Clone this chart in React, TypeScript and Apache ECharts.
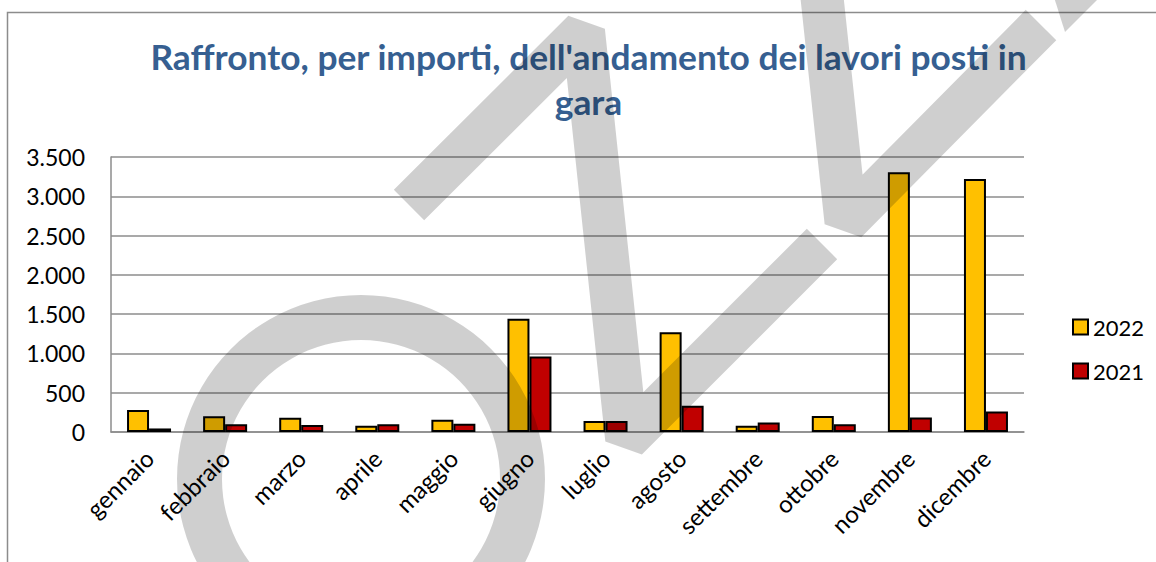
import React, { useEffect, useRef } from "react";
import * as echarts from "echarts";

const months = ["gennaio", "febbraio", "marzo", "aprile", "maggio", "giugno", "luglio", "agosto", "settembre", "ottobre", "novembre", "dicembre"];
const values2022 = [280, 200, 180, 80, 155, 1440, 140, 1270, 80, 205, 3305, 3220];
const values2021 = [45, 100, 88, 100, 105, 960, 140, 335, 120, 100, 185, 262];
const seriesNames = ["2022", "2021"];
const yTicks = [0, 500, 1000, 1500, 2000, 2500, 3000, 3500];
const titleLines = ["Raffronto, per importi, dell'andamento dei lavori posti in", "gara"];

const fmt = (v: number) => String(v).replace(/\B(?=(\d{3})+(?!\d))/g, ".");

function measure(text: string, font: string): number {
  const c = document.createElement("canvas").getContext("2d");
  if (!c) return 0;
  c.font = font;
  return c.measureText(text).width;
}

export default function App() {
  const ref = useRef<HTMLDivElement>(null);
  useEffect(() => {
    if (!ref.current) return;
    const chart = echarts.init(ref.current, null, { renderer: "svg" });
    const titleFont = "bold 34px Lato";
    const w = measure(titleLines[0], titleFont) || 877;
    const sx = 877 / w;
    const wm = "rgba(0,0,0,0.19)";
    chart.setOption({
      animation: false,
      backgroundColor: "#ffffff",
      textStyle: { fontFamily: "Lato" },
      grid: { left: 111, right: 132, top: 157, bottom: 130, containLabel: false },
      legend: {
        data: seriesNames,
        orient: "vertical",
        left: 1067,
        top: 311,
        itemWidth: 15,
        itemHeight: 15,
        itemGap: 22,
        icon: "rect",
        textStyle: { fontFamily: "Lato", fontSize: 22, color: "#000" },
      },
      xAxis: {
        type: "category",
        data: months,
        axisTick: { show: false },
        axisLine: { lineStyle: { color: "#8c8c8c", width: 1.5 } },
        axisLabel: { interval: 0, rotate: 45, margin: 22, fontFamily: "Lato", fontSize: 24, color: "#000" },
      },
      yAxis: {
        type: "value",
        min: yTicks[0],
        max: yTicks[yTicks.length - 1],
        interval: yTicks[1] - yTicks[0],
        axisLine: { show: true, lineStyle: { color: "#8c8c8c", width: 1.5 } },
        axisTick: { show: false },
        splitLine: { lineStyle: { color: "#8c8c8c", width: 1.5 } },
        axisLabel: { margin: 26, fontFamily: "Lato", fontSize: 23, color: "#000", formatter: (v: number) => fmt(v) },
      },
      series: [
        {
          name: seriesNames[0],
          type: "bar",
          data: values2022,
          barWidth: 22,
          barGap: "0%",
          itemStyle: { color: "#FFC000", borderColor: "#000", borderWidth: 2 },
        },
        {
          name: seriesNames[1],
          type: "bar",
          data: values2021,
          barWidth: 22,
          itemStyle: { color: "#C00000", borderColor: "#000", borderWidth: 2 },
        },
      ],
      graphic: [
        {
          type: "rect",
          silent: true,
          shape: { x: 7.5, y: 12.5, width: 1400, height: 800 },
          style: { fill: null, stroke: "#8c8c8c", lineWidth: 1.5 },
          z: 1,
        },
        {
          type: "text",
          silent: true,
          x: 588.5,
          y: 57,
          scaleX: sx,
          scaleY: 1,
          style: { text: titleLines[0], font: titleFont, fill: "#365F91", align: "center", verticalAlign: "middle" },
          z: 5,
        },
        {
          type: "text",
          silent: true,
          x: 588.5,
          y: 102,
          scaleX: sx,
          scaleY: 1,
          style: { text: titleLines[1], font: titleFont, fill: "#365F91", align: "center", verticalAlign: "middle" },
          z: 5,
        },
        {
          type: "ring",
          silent: true,
          shape: { cx: 361, cy: 479, r: 184, r0: 139 },
          style: { fill: wm },
          z: 100,
        },
        {
          type: "polyline",
          silent: true,
          shape: { points: [[409, 205], [583.5, 31], [626.7, 439.3], [822, 244]] },
          style: { stroke: wm, fill: null, lineWidth: 43, lineJoin: "bevel", lineCap: "butt" },
          z: 100,
        },
        {
          type: "polyline",
          silent: true,
          shape: { points: [[818, -40], [846, 222], [1041, 25]] },
          style: { stroke: wm, fill: null, lineWidth: 43, lineJoin: "bevel", lineCap: "butt" },
          z: 100,
        },
        {
          type: "polygon",
          silent: true,
          shape: { points: [[1053, -6], [1065, 32], [1103, -6]] },
          style: { fill: wm },
          z: 100,
        },
      ],
    });
    return () => chart.dispose();
  }, []);
  return <div ref={ref} style={{ position: "absolute", left: 0, top: 0, width: 1156, height: 562 }} />;
}
